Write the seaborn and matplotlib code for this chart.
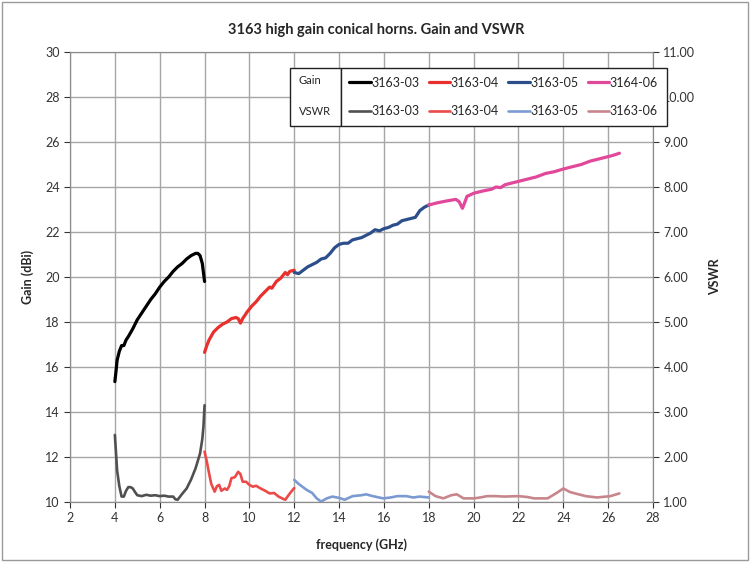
import matplotlib.pyplot as plt
import matplotlib.ticker as mticker
import seaborn as sns
from matplotlib.lines import Line2D
from matplotlib.patches import Rectangle

# gain curves (dBi) per horn
g03_f = [4.0, 4.05, 4.1, 4.2, 4.3, 4.4, 4.5, 4.6, 4.8, 5.0, 5.2, 5.4, 5.6, 5.8, 6.0, 6.2, 6.4,
         6.6, 6.8, 7.0, 7.2, 7.4, 7.6, 7.7, 7.8, 7.9, 8.0]
g03_v = [15.35, 15.8, 16.3, 16.7, 16.95, 16.95, 17.2, 17.35, 17.7, 18.1, 18.4, 18.7, 19.0, 19.25,
         19.55, 19.8, 20.0, 20.25, 20.45, 20.6, 20.8, 20.95, 21.05, 21.05, 20.95, 20.6, 19.8]
g04_f = [8.0, 8.1, 8.2, 8.4, 8.6, 8.8, 9.0, 9.2, 9.4, 9.5, 9.6, 9.7, 9.9, 10.1, 10.3, 10.5, 10.7,
         10.9, 11.0, 11.2, 11.4, 11.6, 11.7, 11.8, 12.0]
g04_v = [16.65, 16.95, 17.2, 17.55, 17.75, 17.9, 18.0, 18.15, 18.2, 18.15, 17.95, 18.15, 18.45,
         18.7, 18.9, 19.15, 19.35, 19.55, 19.5, 19.8, 19.95, 20.2, 20.1, 20.25, 20.3]
g05_f = [12.0, 12.2, 12.4, 12.6, 12.8, 13.0, 13.2, 13.4, 13.6, 13.8, 14.0, 14.2, 14.4, 14.6, 14.8,
         15.0, 15.2, 15.4, 15.6, 15.8, 16.0, 16.2, 16.4, 16.6, 16.8, 17.0, 17.2, 17.4, 17.6, 17.8, 18.0]
g05_v = [20.2, 20.15, 20.3, 20.45, 20.55, 20.65, 20.8, 20.85, 21.05, 21.3, 21.45, 21.5, 21.5, 21.65,
         21.7, 21.75, 21.85, 21.95, 22.1, 22.05, 22.15, 22.2, 22.3, 22.35, 22.5, 22.55, 22.6, 22.65,
         22.95, 23.1, 23.2]
g06_f = [18.0, 18.4, 18.8, 19.2, 19.35, 19.5, 19.6, 19.7, 20.0, 20.4, 20.8, 21.0, 21.2, 21.4, 21.8,
         22.0, 22.4, 22.8, 23.2, 23.6, 24.0, 24.4, 24.8, 25.2, 25.6, 26.0, 26.2, 26.5]
g06_v = [23.2, 23.3, 23.38, 23.45, 23.35, 23.05, 23.3, 23.58, 23.72, 23.82, 23.9, 24.0, 23.97, 24.1,
         24.2, 24.25, 24.35, 24.45, 24.6, 24.68, 24.8, 24.9, 25.0, 25.15, 25.25, 25.35, 25.4, 25.5]

# VSWR curves
v03_f = [4.0, 4.05, 4.1, 4.2, 4.3, 4.4, 4.5, 4.6, 4.7, 4.8, 4.9, 5.0, 5.2, 5.4, 5.6, 5.8, 6.0, 6.2,
         6.4, 6.6, 6.7, 6.8, 7.0, 7.2, 7.4, 7.6, 7.8, 7.9, 7.95, 8.0]
v03_v = [2.49, 2.1, 1.7, 1.35, 1.12, 1.12, 1.25, 1.33, 1.33, 1.3, 1.22, 1.15, 1.13, 1.16, 1.14,
         1.15, 1.13, 1.14, 1.12, 1.12, 1.06, 1.05, 1.18, 1.3, 1.5, 1.75, 2.08, 2.4, 2.67, 3.15]
v04_f = [8.0, 8.1, 8.2, 8.3, 8.45, 8.55, 8.65, 8.75, 8.9, 9.0, 9.1, 9.2, 9.35, 9.5, 9.6, 9.7, 9.85,
         10.0, 10.15, 10.3, 10.5, 10.7, 10.9, 11.1, 11.3, 11.5, 11.6, 11.7, 11.85, 12.0]
v04_v = [2.12, 1.9, 1.64, 1.4, 1.23, 1.35, 1.38, 1.25, 1.3, 1.27, 1.35, 1.53, 1.55, 1.67, 1.62,
         1.45, 1.45, 1.38, 1.34, 1.36, 1.3, 1.25, 1.19, 1.2, 1.12, 1.07, 1.05, 1.12, 1.22, 1.31]
v05_f = [12.0, 12.2, 12.55, 12.8, 13.0, 13.2, 13.45, 13.7, 14.0, 14.25, 14.6, 15.0, 15.2, 15.5,
         15.97, 16.3, 16.6, 17.0, 17.3, 17.6, 18.0]
v05_v = [1.49, 1.4, 1.27, 1.2, 1.08, 1.01, 1.08, 1.12, 1.09, 1.05, 1.13, 1.15, 1.17, 1.13, 1.08,
         1.1, 1.13, 1.13, 1.1, 1.12, 1.10]
v06_f = [18.0, 18.3, 18.65, 19.0, 19.25, 19.55, 20.0, 20.3, 20.6, 21.0, 21.35, 22.0, 22.4, 22.7,
         23.3, 23.7, 24.0, 24.3, 24.6, 25.0, 25.5, 26.1, 26.5]
v06_v = [1.23, 1.13, 1.08, 1.15, 1.17, 1.08, 1.08, 1.1, 1.13, 1.13, 1.12, 1.13, 1.11, 1.08, 1.08,
         1.2, 1.3, 1.22, 1.18, 1.13, 1.10, 1.13, 1.19]

gain_series = [(g03_f, g03_v, "#000000", "3163-03"), (g04_f, g04_v, "#e8302c", "3163-04"),
               (g05_f, g05_v, "#2c4f8c", "3163-05"), (g06_f, g06_v, "#e2489a", "3164-06")]
vswr_series = [(v03_f, v03_v, "#505050", "3163-03"), (v04_f, v04_v, "#ec4a48", "3163-04"),
               (v05_f, v05_v, "#7c9ad2", "3163-05"), (v06_f, v06_v, "#c7868b", "3163-06")]

sns.set_style("white")
plt.rcParams['font.family'] = ['Lato', 'DejaVu Sans']

fig = plt.figure(figsize=(7.52, 5.62), dpi=100)
ax = fig.add_axes([0.0931, 0.1068, 0.7753, 0.8007])
ax2 = ax.twinx()

for f, v, c, _ in gain_series:
    sns.lineplot(x=f, y=v, ax=ax, color=c, linewidth=2.3, sort=False)
for f, v, c, _ in vswr_series:
    sns.lineplot(x=f, y=v, ax=ax2, color=c, linewidth=1.9, sort=False)

ax.set_xlim(2, 28)
ax.set_ylim(10, 30)
ax2.set_ylim(1, 11)
ax.set_xticks(range(2, 29, 2))
ax.set_yticks(range(10, 31, 2))
ax2.set_yticks(range(1, 12))
ax2.yaxis.set_major_formatter(mticker.FormatStrFormatter('%.2f'))
ax.grid(True, color="#a6a6a6", linewidth=1)
ax2.grid(False)
for a in (ax, ax2):
    a.tick_params(labelsize=9, colors="#333333", length=4, width=0.8, direction="out")
    for s in a.spines.values():
        s.set_color("#8c8c8c")
ax.tick_params(axis="x", bottom=True)
ax.tick_params(axis="y", left=True)
ax2.tick_params(axis="y", right=True)

ax.set_xlabel("frequency (GHz)", fontsize=9, fontweight="bold", labelpad=10)
ax.set_ylabel("Gain (dBi)", fontsize=9, fontweight="bold", labelpad=8)
ax2.set_ylabel("VSWR", fontsize=9, fontweight="bold", labelpad=10)
fig.text(0.5, 0.947, "3163 high gain conical horns. Gain and VSWR", ha="center", va="center",
         fontsize=10.5, fontweight="bold")

# legend: column-wise pairs (gain over vswr)
handles, labels = [], []
for (gf, gv, gc, gl), (vf, vv, vc, vl) in zip(gain_series, vswr_series):
    handles += [Line2D([], [], color=gc, linewidth=2.3), Line2D([], [], color=vc, linewidth=1.9)]
    labels += [gl, vl]
leg = fig.legend(handles, labels, ncol=4, loc="upper left", bbox_to_anchor=(0.453, 0.879),
                 fontsize=9, handlelength=1.7, handletextpad=0.05, columnspacing=0.75,
                 labelspacing=1.3, borderpad=0.7, borderaxespad=0, frameon=True, fancybox=False,
                 framealpha=1)
leg.get_frame().set_edgecolor("#222222")
leg.get_frame().set_linewidth(1)
fig.canvas.draw()
bb = leg.get_window_extent().transformed(fig.transFigure.inverted())
fig.add_artist(Rectangle((0.386, bb.y0), bb.x0 - 0.386, bb.height, transform=fig.transFigure,
                         fill=True, facecolor="white", edgecolor="#222222", linewidth=1))
fig.text(0.397, bb.y0 + bb.height * 0.78, "Gain", fontsize=8, va="center")
fig.text(0.397, bb.y0 + bb.height * 0.24, "VSWR", fontsize=8, va="center")

fig.add_artist(Rectangle((0.003, 0.004), 0.992, 0.992, transform=fig.transFigure,
                         fill=False, edgecolor="#9a9a9a", linewidth=1))

fig.savefig("out.png", dpi=100)
